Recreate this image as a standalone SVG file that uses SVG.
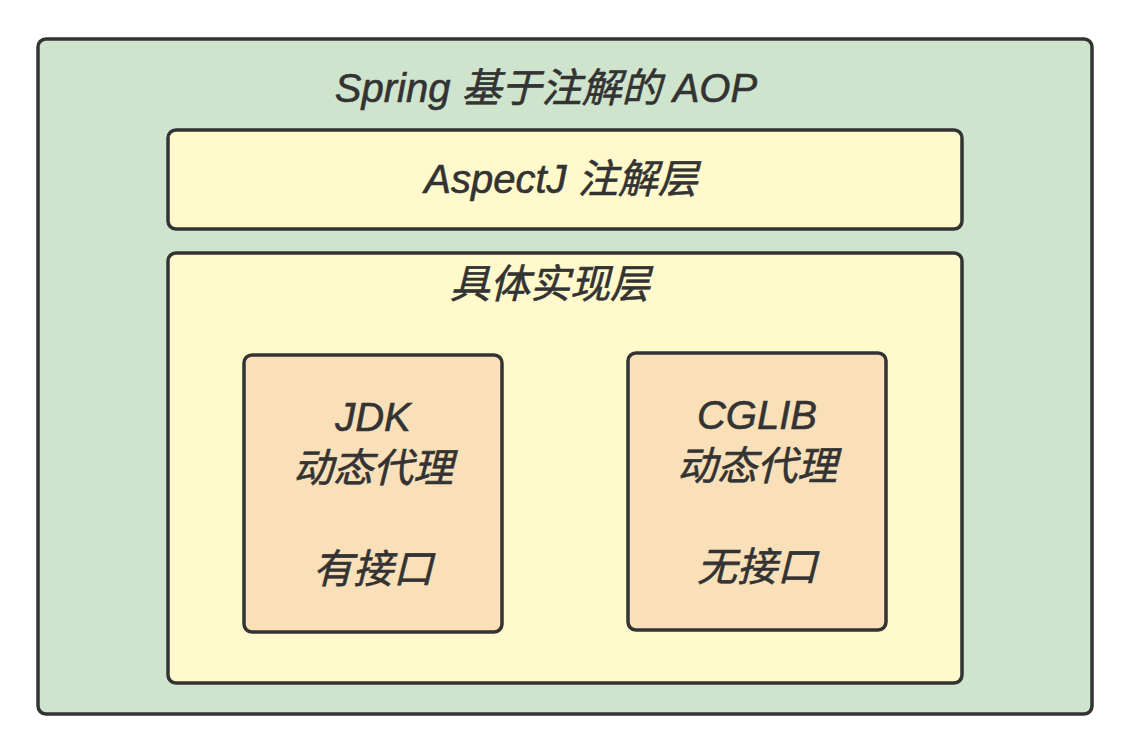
<svg xmlns="http://www.w3.org/2000/svg" width="1128" height="748" viewBox="0 0 1128 748">
<style>
.box{stroke:#333;stroke-width:3.5}
.t{font-family:"Liberation Sans","Noto Sans CJK SC",sans-serif;font-style:italic;font-size:40px;fill:#333;stroke:#333;stroke-width:0.6;text-anchor:middle}
</style>
<rect width="1128" height="748" fill="#fff"/>
<g id="outer"><rect class="box" x="38" y="39" width="1054" height="675" rx="8" fill="#cfe4cc"/>
<text class="t" x="546" y="102">Spring 基于注解的 AOP</text></g>
<g id="aspectj"><rect class="box" x="168" y="130" width="794" height="99" rx="8" fill="#fff9cc"/>
<text class="t" x="561" y="193">AspectJ 注解层</text></g>
<g id="impl"><rect class="box" x="168" y="253" width="794" height="430" rx="8" fill="#fff9cc"/>
<text class="t" x="550" y="298">具体实现层</text></g>
<g id="jdk"><rect class="box" x="244" y="355" width="258" height="277" rx="8" fill="#fae0b9"/>
<text class="t" x="373" y="431">JDK</text>
<text class="t" x="373" y="482">动态代理</text>
<text class="t" x="373" y="583">有接口</text></g>
<g id="cglib"><rect class="box" x="628" y="353" width="258" height="277" rx="8" fill="#fae0b9"/>
<text class="t" x="757" y="429">CGLIB</text>
<text class="t" x="757" y="480">动态代理</text>
<text class="t" x="757" y="581">无接口</text></g>
<g id="connectors"></g>
</svg>
